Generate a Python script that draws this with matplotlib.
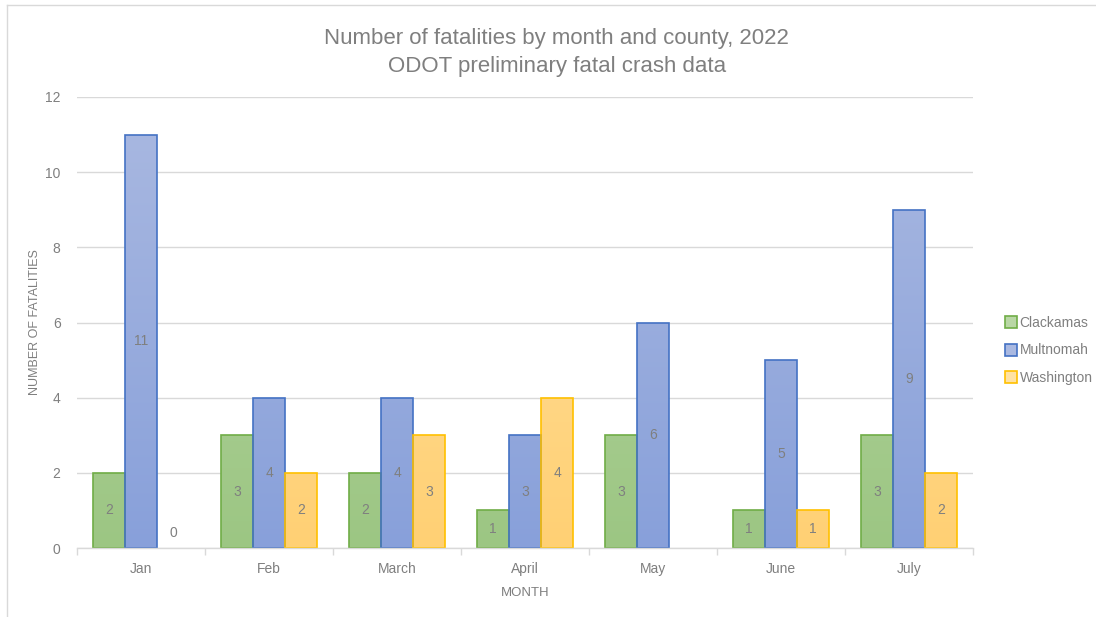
import numpy as np
import matplotlib
matplotlib.use("Agg")
import matplotlib.pyplot as plt
from matplotlib.colors import LinearSegmentedColormap
from matplotlib.patches import Rectangle
from matplotlib.lines import Line2D

plt.rcParams["font.family"] = ["Liberation Sans", "DejaVu Sans"]

# ── data ──  (None = no value reported)
months = ["Jan", "Feb", "March", "April", "May", "June", "July"]
counties = ["Clackamas", "Multnomah", "Washington"]
clackamas = [2, 3, 2, 1, 3, 1, 3]
multnomah = [11, 4, 4, 3, 6, 5, 9]
washington = [0, 2, 3, 4, None, 1, 2]
series = [clackamas, multnomah, washington]

# (top colour, bottom colour, edge colour)
STYLE = [
    ("#b9d7a5", "#9cc683", "#70ad47"),
    ("#aab9e1", "#88a0da", "#4472c4"),
    ("#ffe2a3", "#ffd074", "#ffc000"),
]
TXT = "#7f7f7f"
GRID = "#d9d9d9"

fig = plt.figure(figsize=(10.96, 6.17), dpi=100)
ax = fig.add_axes([0.0705, 0.1118, 0.8175, 0.731])

x = np.arange(len(months))
w = 0.25
for i, (vals, (ctop, cbot, cedge)) in enumerate(zip(series, STYLE)):
    cmap = LinearSegmentedColormap.from_list(f"g{i}", [cbot, ctop])
    grad = np.linspace(0, 1, 256).reshape(-1, 1)
    for xi, v in zip(x, vals):
        if v is None:
            continue
        left = xi + (i - 1) * w - w / 2
        if v > 0:
            im = ax.imshow(grad, cmap=cmap, aspect="auto", origin="lower",
                           extent=(left, left + w, 0, 12), zorder=2)
            rect = Rectangle((left, 0), w, v, facecolor="none",
                             edgecolor=cedge, linewidth=1.2, zorder=3)
            ax.add_patch(rect)
            im.set_clip_path(rect)
            ax.text(left + w / 2, v / 2, str(v), ha="center", va="center",
                    fontsize=10, color=TXT, zorder=4)
        else:
            ax.text(left + w / 2, 0.4, str(v), ha="center", va="center",
                    fontsize=10, color=TXT, zorder=4)

ax.set_xlim(-0.5, len(months) - 0.5)
ax.set_ylim(0, 12)
ax.set_yticks(range(0, 13, 2))
ax.set_xticks(x)
ax.set_xticklabels(months)
ax.set_xticks(np.arange(-0.5, len(months)), minor=True)
ax.tick_params(axis="x", which="major", length=0, pad=10, labelsize=10, labelcolor=TXT)
ax.tick_params(axis="x", which="minor", length=5, color=GRID, width=1)
ax.tick_params(axis="y", length=0, pad=12, labelsize=10, labelcolor=TXT)
ax.grid(axis="y", color=GRID, linewidth=1, zorder=0)
ax.set_axisbelow(True)
for s in ["top", "right", "left"]:
    ax.spines[s].set_visible(False)
ax.spines["bottom"].set_color(GRID)
ax.spines["bottom"].set_linewidth(1)
ax.spines["bottom"].set_zorder(5)

ax.set_xlabel("MONTH", fontsize=9.5, color=TXT, labelpad=8)
ax.set_ylabel("NUMBER OF FATALITIES", fontsize=9, color=TXT, labelpad=3)

fig.text(0.508, 0.938, "Number of fatalities by month and county, 2022",
         ha="center", va="center", fontsize=16, color="#7f7f7f")
fig.text(0.508, 0.893, "ODOT preliminary fatal crash data",
         ha="center", va="center", fontsize=16, color="#7f7f7f")

handles = [Line2D([], [], marker="s", linestyle="none", markersize=8,
                  markerfacecolor=ctop, markeredgecolor=cedge, markeredgewidth=1.2)
           for ctop, cbot, cedge in STYLE]
fig.legend(handles, counties, loc="center left", bbox_to_anchor=(0.905, 0.432),
           frameon=False, fontsize=10, labelcolor=TXT, handletextpad=0.1,
           labelspacing=1.0, handlelength=1.0)

# chart border (top and left edges visible)
fig.add_artist(Line2D([0.006, 0.006], [0, 0.992], transform=fig.transFigure,
                      color="#d9d9d9", linewidth=1))
fig.add_artist(Line2D([0.006, 1], [0.992, 0.992], transform=fig.transFigure,
                      color="#d9d9d9", linewidth=1))

fig.savefig("out.png", dpi=100)
